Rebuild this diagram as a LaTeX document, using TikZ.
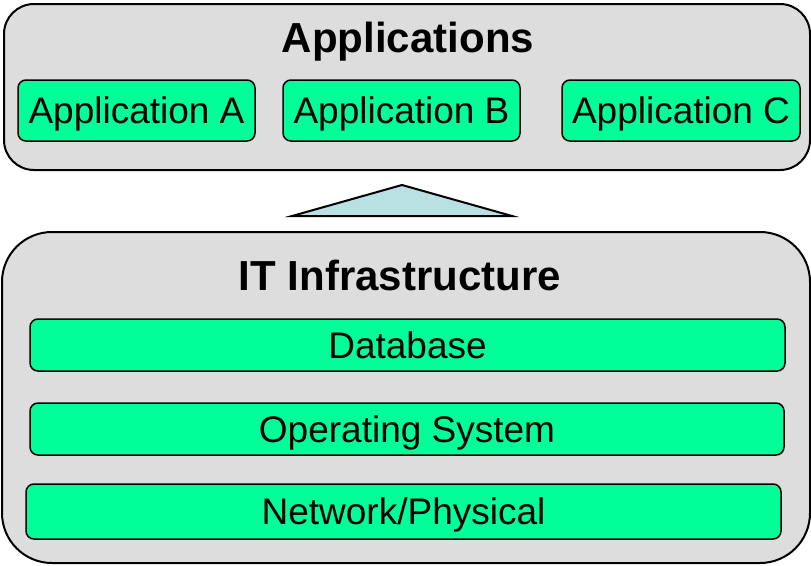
\documentclass[tikz,border=0pt]{standalone}
\usepackage{fontspec}
\setmainfont{Liberation Sans}
\definecolor{boxgray}{RGB}{221,221,221}
\definecolor{appgreen}{RGB}{0,255,153}
\definecolor{arrowblue}{RGB}{185,224,226}
\begin{document}
\begin{tikzpicture}[x=1pt,y=-1pt,
  outerbox/.style={draw,fill=boxgray,line width=2pt,inner sep=0pt},
  layerbox/.style={draw,fill=appgreen,line width=1.5pt,rounded corners=8pt,inner sep=0pt,
    font=\fontsize{37}{42}\selectfont,text height=26.5pt,text depth=0pt},
  titletext/.style={font=\fontsize{42}{46}\selectfont\bfseries,anchor=base,inner sep=0pt}]
 \useasboundingbox (0,0) rectangle (811,565);

 %Outer boxes
 \node[outerbox,rounded corners=30pt,minimum width=806pt,minimum height=166pt] (apps) at (407,87) {};
 \node[outerbox,rounded corners=50pt,minimum width=808pt,minimum height=331pt] (infra) at (406,397.5) {};

 %Titles
 \node[titletext] (appstitle) at (408,52) {Applications};
 \node[titletext] (infratitle) at (400,290) {IT Infrastructure};

 %Applications
 \node[layerbox,minimum width=237pt,minimum height=61pt] (appa) at (136.5,110.5) {Application A};
 \node[layerbox,minimum width=237pt,minimum height=61pt] (appb) at (401.5,110.5) {Application B};
 \node[layerbox,minimum width=238pt,minimum height=61pt] (appc) at (681,110.5) {Application C};

 %Layers
 \node[layerbox,minimum width=755pt,minimum height=52pt] (db) at (407.5,345) {Database};
 \node[layerbox,minimum width=754pt,minimum height=52pt] (os) at (407,429) {Operating System};
 \node[layerbox,minimum width=755pt,minimum height=55pt] (net) at (403.5,511.5) {Network/Physical};

 %Arrow
 \draw[line width=2pt,fill=arrowblue,line join=miter] (292,216) -- (402,185) -- (512,216) -- cycle;

\end{tikzpicture}
\end{document}
